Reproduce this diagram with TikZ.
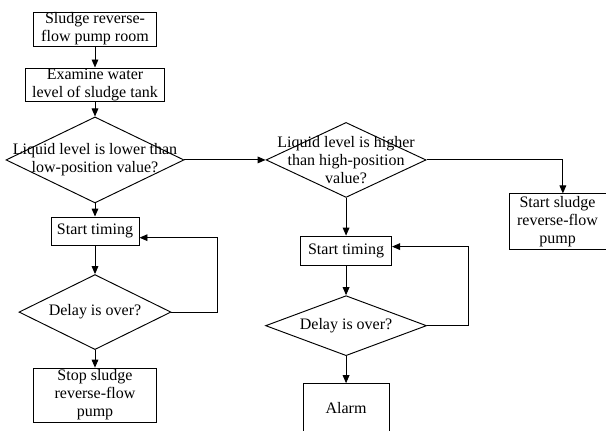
\documentclass[tikz,border=0pt]{standalone}
\usepackage{fontspec}
\setmainfont{Liberation Serif}
\usetikzlibrary{shapes.geometric,arrows.meta}
\tikzstyle{connector} = [line width=0.25mm, -{Triangle[length=6pt,width=5pt]}]
\tikzstyle{process} = [rectangle, draw, line width=0.25mm, align=center, inner sep=0pt]
\tikzstyle{decision} = [diamond, draw, line width=0.25mm, inner sep=0pt]

\begin{document}
\begin{tikzpicture}[font=\fontsize{12}{13.5}\selectfont]
                \useasboundingbox (-71.25pt,21.75pt) rectangle (383.25pt,-300.75pt);

                \node (room) [process, minimum width=92pt, minimum height=25.5pt] {Sludge reverse-\\flow pump room};
                \node (check) [process, minimum width=104pt, minimum height=24.75pt, below of=room, node distance=41.6pt] {Examine water\\level of sludge tank};
                \node (low) [decision, minimum width=133.5pt, minimum height=64.5pt, below of=check, node distance=56.6pt,
                    label={[align=center]center:Liquid level is lower than\\low-position value?}] {};
                \node (time1) [process, minimum width=66pt, minimum height=21pt, below of=low, node distance=53.3pt] {Start timing};
                \node (delay1) [decision, minimum width=114pt, minimum height=56.25pt, below of=time1, node distance=60.8pt,
                    label=center:Delay is over?] {};
                \node (stop) [process, minimum width=92pt, minimum height=40.5pt, below of=delay1, node distance=62.3pt] {Stop sludge\\reverse-flow\\pump};

                \node (high) [decision, minimum width=120pt, minimum height=56.25pt, right of=low, node distance=188.3pt,
                    label={[align=center]center:Liquid level is higher\\than high-position\\value?}] {};
                \node (time2) [process, minimum width=68.25pt, minimum height=21.75pt, below of=high, node distance=68pt] {Start timing};
                \node (delay2) [decision, minimum width=120.75pt, minimum height=45pt, below of=time2, node distance=56.3pt,
                    label=center:Delay is over?] {};
                \node (alarm) [process, minimum width=64.5pt, minimum height=36pt, below of=delay2, node distance=61.5pt] {Alarm};
                \node (pumpon) [process, minimum width=72.75pt, minimum height=42pt, right of=high, node distance=158.6pt, yshift=-46.5pt] {Start sludge\\reverse-flow\\pump};

                \draw [connector] (room) -- (check);
                \draw [connector] (check) -- (low);
                \draw [connector] (low) -- (high);
                \draw [connector] (high) -| ([xshift=4pt]pumpon.north);
                \draw [connector] (low) -- (time1);
                \draw [connector] (time1) -- (delay1);
                \draw [connector] (delay1) -- (stop);
                \draw [connector] (delay1.east) -- ++(34.5pt,0) |- ([yshift=-5pt]time1.east);
                \draw [connector] (high) -- (time2);
                \draw [connector] (time2) -- (delay2);
                \draw [connector] (delay2) -- (alarm);
                \draw [connector] (delay2.east) -- ++(30.75pt,0) |- ([yshift=3pt]time2.east);
            \end{tikzpicture}
\end{document}
